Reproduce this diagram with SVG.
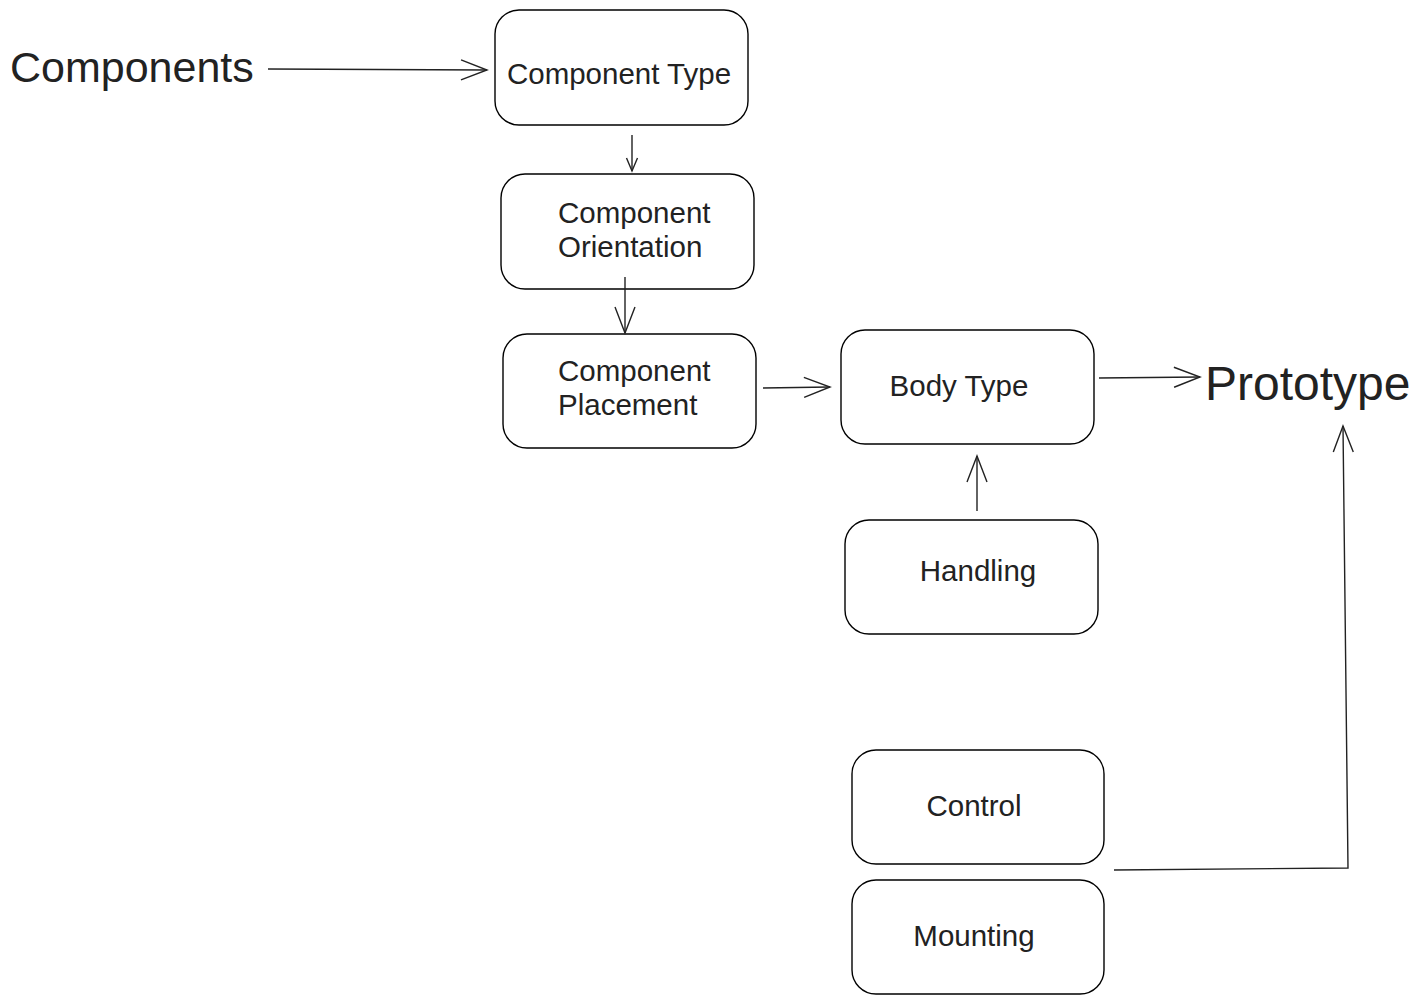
<svg xmlns="http://www.w3.org/2000/svg" width="1422" height="1004" viewBox="0 0 1422 1004">
<defs>
<style>
.box{fill:#fff;stroke:#000;stroke-width:1.4}
.t{font-family:"Liberation Sans",Arial,sans-serif;font-size:29.5px;fill:#222}
.big{font-family:"Liberation Sans",Arial,sans-serif;fill:#222}
.c{fill:none;stroke:#222;stroke-width:1.4}
</style>
<marker id="ah" viewBox="0 0 30 24" refX="28" refY="12" markerWidth="30" markerHeight="24" markerUnits="userSpaceOnUse" orient="auto">
<path d="M2,2 L28,12 L2,22" fill="none" stroke="#222" stroke-width="1.4"/>
</marker>
<marker id="ahs" viewBox="0 0 16 16" refX="14" refY="8" markerWidth="16" markerHeight="16" markerUnits="userSpaceOnUse" orient="auto">
<path d="M1,2.5 L14,8 L1,13.5" fill="none" stroke="#222" stroke-width="1.4"/>
</marker>
</defs>
<rect width="1422" height="1004" fill="#fff"/>
<g id="components"><text class="big" x="10" y="82" font-size="43">Components</text></g>
<g id="prototype"><text class="big" x="1205" y="400" font-size="48">Prototype</text></g>
<g id="component-type"><rect class="box" x="495" y="10" width="253" height="115" rx="24"/><text class="t" x="619" y="84" text-anchor="middle">Component Type</text></g>
<g id="component-orientation"><rect class="box" x="501" y="174" width="253" height="115" rx="24"/><text class="t" x="558" y="223">Component</text><text class="t" x="558" y="257">Orientation</text></g>
<g id="component-placement"><rect class="box" x="503" y="334" width="253" height="114" rx="24"/><text class="t" x="558" y="381">Component</text><text class="t" x="558" y="415">Placement</text></g>
<g id="body-type"><rect class="box" x="841" y="330" width="253" height="114" rx="24"/><text class="t" x="959" y="396" text-anchor="middle">Body Type</text></g>
<g id="handling"><rect class="box" x="845" y="520" width="253" height="114" rx="24"/><text class="t" x="978" y="581" text-anchor="middle">Handling</text></g>
<g id="control"><rect class="box" x="852" y="750" width="252" height="114" rx="24"/><text class="t" x="974" y="816" text-anchor="middle">Control</text></g>
<g id="mounting"><rect class="box" x="852" y="880" width="252" height="114" rx="24"/><text class="t" x="974" y="946" text-anchor="middle">Mounting</text></g>
<g id="connectors">
<path class="c" d="M268,69 L487,70" marker-end="url(#ah)"/>
<path class="c" d="M632,135 L632,171" marker-end="url(#ahs)"/>
<path class="c" d="M625,277 L625,333" marker-end="url(#ah)"/>
<path class="c" d="M763,388 L830,387" marker-end="url(#ah)"/>
<path class="c" d="M1099,378 L1200,377" marker-end="url(#ah)"/>
<path class="c" d="M977,511 L977,456" marker-end="url(#ah)"/>
<path class="c" d="M1114,870 L1348,868 L1343,426" marker-end="url(#ah)"/>
</g>
</svg>
